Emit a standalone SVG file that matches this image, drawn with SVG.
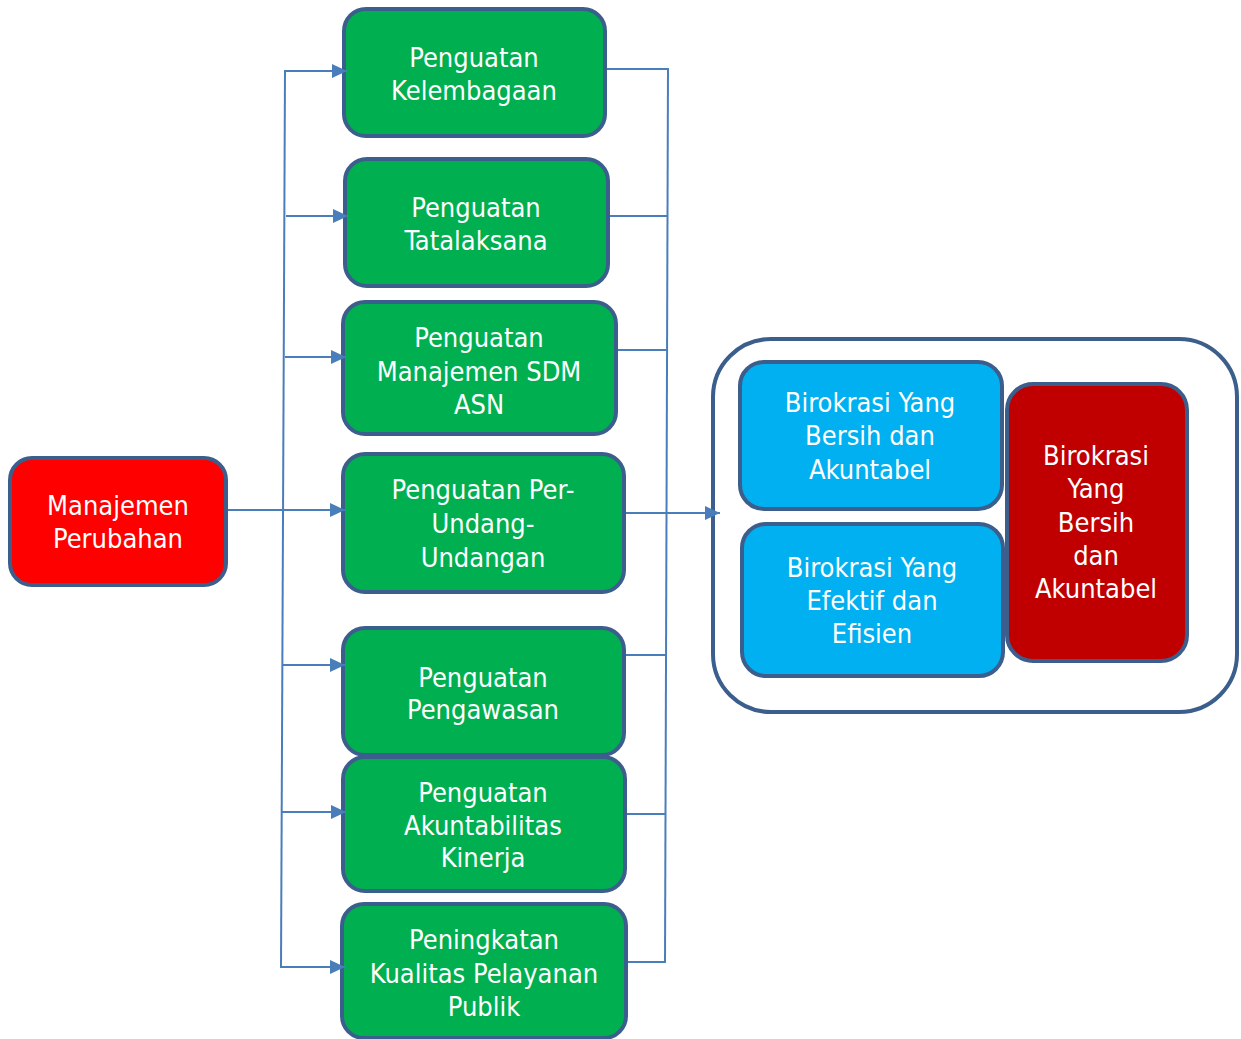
<svg xmlns="http://www.w3.org/2000/svg" width="1241" height="1039" viewBox="0 0 1241 1039">
<style>
.box{stroke:#3B5E8C;stroke-width:4}
.g{fill:#00B050}
.b{fill:#00B0F0}
.r{fill:#FF0000}
.dr{fill:#C00000}
.t{font-family:"DejaVu Sans Condensed","DejaVu Sans",sans-serif;font-stretch:condensed;font-size:27px;fill:#FFFFFF;text-anchor:middle}
.c{stroke:#4A7EBB;stroke-width:2;fill:none}
</style>
<defs>
<marker id="ah" markerUnits="userSpaceOnUse" viewBox="0 0 16 16" markerWidth="16" markerHeight="16" refX="15" refY="8" orient="auto">
<path d="M0,1 L15,8 L0,15 z" fill="#4A7EBB"/>
</marker>
</defs>
<rect width="1241" height="1039" fill="#FFFFFF"/>
<g id="container">
<rect class="box" x="713" y="339" width="524" height="373" rx="58" fill="#FFFFFF"/>
</g>
<g id="manajemen">
<rect class="box r" x="10" y="458" width="216" height="127" rx="22"/>
<text class="t" x="118" y="515">Manajemen</text>
<text class="t" x="118" y="548">Perubahan</text>
</g>
<g id="kelembagaan">
<rect class="box g" x="344" y="9" width="261" height="127" rx="22"/>
<text class="t" x="474" y="67">Penguatan</text>
<text class="t" x="474" y="100">Kelembagaan</text>
</g>
<g id="tatalaksana">
<rect class="box g" x="345" y="159" width="263" height="127" rx="22"/>
<text class="t" x="476" y="217">Penguatan</text>
<text class="t" x="476" y="250">Tatalaksana</text>
</g>
<g id="sdm">
<rect class="box g" x="343" y="302" width="273" height="132" rx="22"/>
<text class="t" x="479" y="347">Penguatan</text>
<text class="t" x="479" y="381">Manajemen SDM</text>
<text class="t" x="479" y="414">ASN</text>
</g>
<g id="perundangan">
<rect class="box g" x="343" y="454" width="281" height="138" rx="22"/>
<text class="t" x="483" y="499">Penguatan Per-</text>
<text class="t" x="483" y="533">Undang-</text>
<text class="t" x="483" y="567">Undangan</text>
</g>
<g id="pengawasan">
<rect class="box g" x="343" y="628" width="281" height="127" rx="22"/>
<text class="t" x="483" y="687">Penguatan</text>
<text class="t" x="483" y="719">Pengawasan</text>
</g>
<g id="akuntabilitas">
<rect class="box g" x="343" y="757" width="282" height="134" rx="22"/>
<text class="t" x="483" y="802">Penguatan</text>
<text class="t" x="483" y="835">Akuntabilitas</text>
<text class="t" x="483" y="867">Kinerja</text>
</g>
<g id="pelayanan">
<rect class="box g" x="342" y="904" width="284" height="134" rx="22"/>
<text class="t" x="484" y="949">Peningkatan</text>
<text class="t" x="484" y="983">Kualitas Pelayanan</text>
<text class="t" x="484" y="1016">Publik</text>
</g>
<g id="bersih">
<rect class="box b" x="740" y="362" width="262" height="147" rx="24"/>
<text class="t" x="870" y="412">Birokrasi Yang</text>
<text class="t" x="870" y="445">Bersih dan</text>
<text class="t" x="870" y="479">Akuntabel</text>
</g>
<g id="efektif">
<rect class="box b" x="742" y="524" width="261" height="152" rx="24"/>
<text class="t" x="872" y="577">Birokrasi Yang</text>
<text class="t" x="872" y="610">Efektif dan</text>
<text class="t" x="872" y="643">Efisien</text>
</g>
<g id="hasil">
<rect class="box dr" x="1007" y="384" width="180" height="277" rx="26"/>
<text class="t" x="1096" y="465">Birokrasi</text>
<text class="t" x="1096" y="498">Yang</text>
<text class="t" x="1096" y="532">Bersih</text>
<text class="t" x="1096" y="565">dan</text>
<text class="t" x="1096" y="598">Akuntabel</text>
</g>
<g id="connectors">
<line class="c" x1="285" y1="70" x2="281" y2="968"/>
<line class="c" x1="668" y1="68" x2="665" y2="963"/>
<line class="c" x1="285" y1="71" x2="347" y2="71" marker-end="url(#ah)"/>
<line class="c" x1="286" y1="216" x2="348" y2="216" marker-end="url(#ah)"/>
<line class="c" x1="285" y1="357" x2="346" y2="357" marker-end="url(#ah)"/>
<line class="c" x1="228" y1="510" x2="345" y2="510" marker-end="url(#ah)"/>
<line class="c" x1="283" y1="665" x2="345" y2="665" marker-end="url(#ah)"/>
<line class="c" x1="282" y1="812" x2="346" y2="812" marker-end="url(#ah)"/>
<line class="c" x1="281" y1="967" x2="345" y2="967" marker-end="url(#ah)"/>
<line class="c" x1="607" y1="69" x2="668" y2="69"/>
<line class="c" x1="610" y1="216" x2="668" y2="216"/>
<line class="c" x1="618" y1="350" x2="667" y2="350"/>
<line class="c" x1="626" y1="513" x2="720" y2="513" marker-end="url(#ah)"/>
<line class="c" x1="626" y1="655" x2="666" y2="655"/>
<line class="c" x1="627" y1="814" x2="666" y2="814"/>
<line class="c" x1="628" y1="962" x2="665" y2="962"/>
</g>
</svg>
